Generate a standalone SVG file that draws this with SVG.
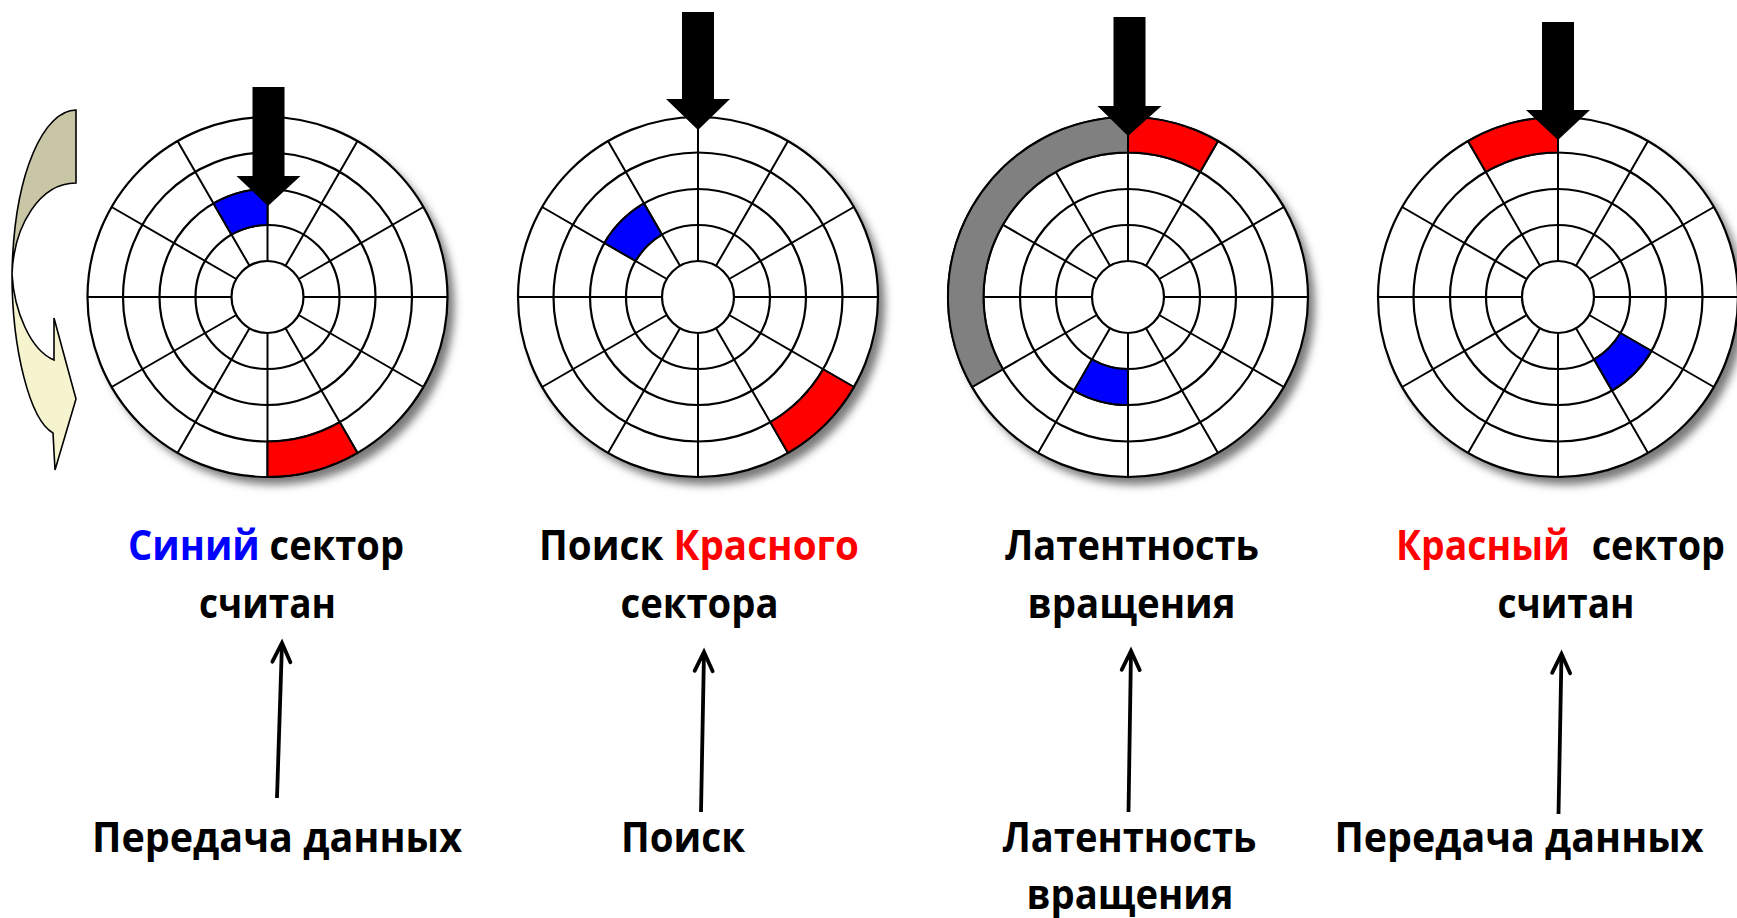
<svg xmlns="http://www.w3.org/2000/svg" width="1737" height="918" viewBox="0 0 1737 918">
<style>
  .ring{fill:none;stroke:#000;stroke-width:2.2}
  .spk{fill:none;stroke:#000;stroke-width:2}
  .sec{stroke:#000;stroke-width:2;stroke-linejoin:miter}
  .blue{fill:#0000FF}
  .red{fill:#FF0000}
  .gray{fill:#808080}
  .head{fill:#000}
  .lbl{font-family:"Open Sans","Noto Sans","DejaVu Sans",sans-serif;font-weight:700;font-size:42px;text-anchor:middle;fill:#000}
  .cb{fill:#0000FF}
  .cr{fill:#FF0000}
  .conn{stroke:#000;stroke-width:3.8;fill:none}
  .curve{stroke:#000;stroke-width:1.6;stroke-linejoin:miter}
</style>
<defs>
  <filter id="blur" x="-20%" y="-20%" width="140%" height="140%">
    <feGaussianBlur stdDeviation="4"/>
  </filter>
  <marker id="ah" markerUnits="userSpaceOnUse" orient="auto" overflow="visible" refX="0" refY="0" markerWidth="1" markerHeight="1">
    <path d="M -19,-9 L 0,0 L -19,9" fill="none" stroke="#000" stroke-width="3.8" stroke-linecap="round"/>
  </marker>
  <g id="platter">
    <circle cx="7" cy="8" r="180" fill="#7a7a7a" filter="url(#blur)"/>
    <circle r="180" fill="#fff"/>
    <path class="spk" d="M0,-36V-180 M18,-31.18L90,-155.88 M31.18,-18L155.88,-90 M36,0H180 M31.18,18L155.88,90 M18,31.18L90,155.88 M0,36V180 M-18,31.18L-90,155.88 M-31.18,18L-155.88,90 M-36,0H-180 M-31.18,-18L-155.88,-90 M-18,-31.18L-90,-155.88"/>
    <circle class="ring" r="180"/>
    <circle class="ring" r="144.5"/>
    <circle class="ring" r="108"/>
    <circle class="ring" r="72"/>
    <circle class="ring" r="36" fill="#fff"/>
  </g>
</defs>

<g id="curved-arrow">
  <path class="curve" fill="#C9C6A6" d="M 76,110 L 76,183 C 40,183 14,225 12,274 C 14,170 45,110 76,110 Z"/>
  <path class="curve" fill="#F6F4CF" d="M 12,274 C 12,350 30,420 53,433 L 55,470 L 76,399 L 54,318 L 54,360 C 30,350 14,310 12,274 Z"/>
</g>

<g id="disk1" transform="translate(267.5,297)">
  <use href="#platter"/>
  <path class="sec blue" d="M -54,-93.53 A 108 108 0 0 1 0,-108 L 0,-72 A 72 72 0 0 0 -36,-62.35 Z"/>
  <path class="sec red" d="M 90,155.88 A 180 180 0 0 1 0,180 L 0,144.5 A 144.5 144.5 0 0 0 72.25,125.14 Z"/>
  <polygon class="head" points="-15,-210 17,-210 17,-121 33,-121 0.5,-91 -31,-121 -15,-121"/>
</g>

<g id="disk2" transform="translate(698,297)">
  <use href="#platter"/>
  <path class="sec blue" d="M -93.53,-54 A 108 108 0 0 1 -54,-93.53 L -36,-62.35 A 72 72 0 0 0 -62.35,-36 Z"/>
  <path class="sec red" d="M 155.88,90 A 180 180 0 0 1 90,155.88 L 72.25,125.14 A 144.5 144.5 0 0 0 125.14,72.25 Z"/>
  <polygon class="head" points="-16,-285 16,-285 16,-198 32,-198 0,-167 -32,-198 -16,-198"/>
</g>

<g id="disk3" transform="translate(1128,297)">
  <use href="#platter"/>
  <path class="sec gray" d="M -155.88,90 A 180 180 0 0 1 0,-180 L 0,-144.5 A 144.5 144.5 0 0 0 -125.14,72.25 Z"/>
  <path class="sec red" d="M 0,-180 A 180 180 0 0 1 90,-155.88 L 72.25,-125.14 A 144.5 144.5 0 0 0 0,-144.5 Z"/>
  <path class="sec blue" d="M 0,108 A 108 108 0 0 1 -54,93.53 L -36,62.35 A 72 72 0 0 0 0,72 Z"/>
  <polygon class="head" points="-14.5,-280 17.5,-280 17.5,-191 33.5,-191 0,-161 -30.5,-191 -14.5,-191"/>
</g>

<g id="disk4" transform="translate(1558,297)">
  <use href="#platter"/>
  <path class="sec red" d="M -90,-155.88 A 180 180 0 0 1 0,-180 L 0,-144.5 A 144.5 144.5 0 0 0 -72.25,-125.14 Z"/>
  <path class="sec blue" d="M 93.53,54 A 108 108 0 0 1 54,93.53 L 36,62.35 A 72 72 0 0 0 62.35,36 Z"/>
  <polygon class="head" points="-16,-275 16,-275 16,-187 32,-187 0,-157 -32,-187 -16,-187"/>
</g>

<g id="label-blue-read">
  <text class="lbl" x="266" y="560" textLength="276" lengthAdjust="spacingAndGlyphs"><tspan class="cb">Синий</tspan> сектор</text>
  <text class="lbl" x="267.5" y="618" textLength="137" lengthAdjust="spacingAndGlyphs">считан</text>
</g>
<g id="label-seek-red">
  <text class="lbl" x="699" y="560" textLength="320" lengthAdjust="spacingAndGlyphs">Поиск <tspan class="cr">Красного</tspan></text>
  <text class="lbl" x="699.5" y="618" textLength="158" lengthAdjust="spacingAndGlyphs">сектора</text>
</g>
<g id="label-latency-top">
  <text class="lbl" x="1132" y="560" textLength="254" lengthAdjust="spacingAndGlyphs">Латентность</text>
  <text class="lbl" x="1131.5" y="618" textLength="208" lengthAdjust="spacingAndGlyphs">вращения</text>
</g>
<g id="label-red-read">
  <text class="lbl cr" x="1396" y="560" style="text-anchor:start" textLength="174" lengthAdjust="spacingAndGlyphs">Красный</text>
  <text class="lbl" transform="translate(1725,560) scale(0.9,1)" style="text-anchor:end">сектор</text>
  <text class="lbl" x="1566" y="618" textLength="137" lengthAdjust="spacingAndGlyphs">считан</text>
</g>

<g id="label-transfer-1">
  <text class="lbl" x="277" y="852" textLength="370" lengthAdjust="spacingAndGlyphs">Передача данных</text>
</g>
<g id="label-seek">
  <text class="lbl" x="683" y="852" textLength="124" lengthAdjust="spacingAndGlyphs">Поиск</text>
</g>
<g id="label-latency-bottom">
  <text class="lbl" x="1129.5" y="852" textLength="254" lengthAdjust="spacingAndGlyphs">Латентность</text>
  <text class="lbl" x="1130" y="909" textLength="207" lengthAdjust="spacingAndGlyphs">вращения</text>
</g>
<g id="label-transfer-2">
  <text class="lbl" x="1519" y="852" textLength="369" lengthAdjust="spacingAndGlyphs">Передача данных</text>
</g>

<g id="connectors">
  <line class="conn" x1="277" y1="798" x2="282" y2="643" marker-end="url(#ah)"/>
  <line class="conn" x1="701" y1="812" x2="704" y2="652" marker-end="url(#ah)"/>
  <line class="conn" x1="1128.5" y1="812" x2="1131" y2="651" marker-end="url(#ah)"/>
  <line class="conn" x1="1558.5" y1="814" x2="1561.5" y2="654" marker-end="url(#ah)"/>
</g>
</svg>
